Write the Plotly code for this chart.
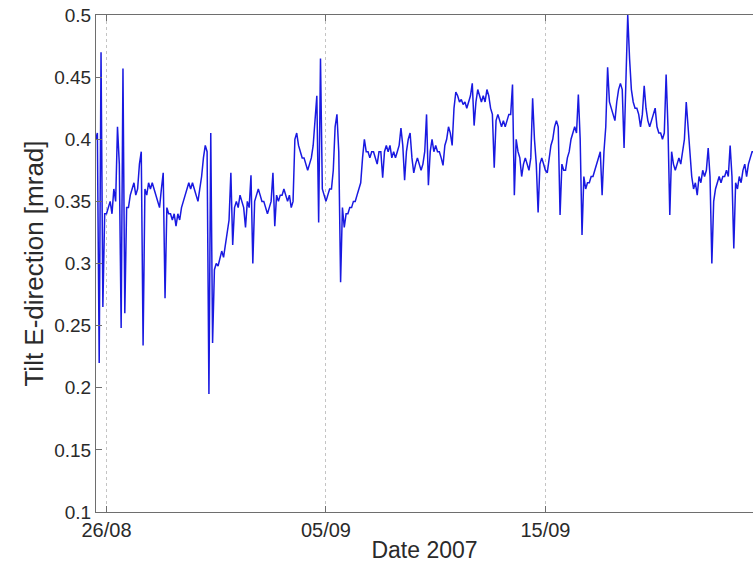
import pandas as pd
import plotly.graph_objects as go

# Tilt readings, sampled every 2 hours from 2007-08-25 12:00
tilt_aug = [
    0.40, 0.405, 0.22, 0.47, 0.265, 0.34,
    0.34, 0.345, 0.35, 0.34, 0.36, 0.35, 0.41, 0.38, 0.248, 0.457, 0.26, 0.345,
    0.345, 0.355, 0.36, 0.365, 0.355, 0.36, 0.38, 0.39, 0.234, 0.36, 0.355, 0.365,
    0.36, 0.365, 0.36, 0.355, 0.35, 0.345, 0.36, 0.373, 0.272, 0.345, 0.34, 0.34,
    0.335, 0.34, 0.33, 0.34, 0.335, 0.345, 0.35, 0.355, 0.36, 0.365, 0.36, 0.365,
    0.36, 0.355, 0.35, 0.36, 0.37, 0.385, 0.395, 0.39, 0.195, 0.405, 0.236, 0.295,
    0.30, 0.298, 0.305, 0.31, 0.305, 0.315, 0.325, 0.335, 0.373, 0.315, 0.345, 0.35,
]
tilt_sep_a = [
    0.345, 0.355, 0.35, 0.345, 0.329, 0.35, 0.345, 0.371, 0.30, 0.35, 0.355, 0.36,
    0.355, 0.35, 0.35, 0.345, 0.34, 0.345, 0.35, 0.373, 0.33, 0.355, 0.35, 0.355,
    0.355, 0.36, 0.355, 0.35, 0.355, 0.345, 0.35, 0.40, 0.405, 0.395, 0.39, 0.385,
    0.385, 0.38, 0.375, 0.38, 0.385, 0.395, 0.42, 0.435, 0.333, 0.465, 0.36, 0.355,
    0.35, 0.355, 0.36, 0.36, 0.375, 0.41, 0.42, 0.39, 0.285, 0.345, 0.329, 0.34,
    0.34, 0.345, 0.345, 0.35, 0.35, 0.355, 0.36, 0.365, 0.385, 0.40, 0.39, 0.39,
    0.385, 0.39, 0.39, 0.385, 0.38, 0.39, 0.39, 0.369, 0.39, 0.395, 0.39, 0.395,
    0.385, 0.39, 0.385, 0.39, 0.395, 0.409, 0.395, 0.367, 0.39, 0.40, 0.405, 0.385,
    0.373, 0.38, 0.385, 0.38, 0.375, 0.38, 0.39, 0.42, 0.363, 0.39, 0.40, 0.39,
    0.395, 0.39, 0.39, 0.385, 0.379, 0.395, 0.40, 0.41, 0.405, 0.395, 0.425, 0.438,
]
tilt_sep_b = [
    0.435, 0.43, 0.432, 0.428, 0.43, 0.425, 0.43, 0.435, 0.445, 0.411, 0.43, 0.44,
    0.435, 0.43, 0.435, 0.43, 0.44, 0.435, 0.425, 0.42, 0.377, 0.415, 0.42, 0.415,
    0.41, 0.415, 0.41, 0.415, 0.42, 0.42, 0.444, 0.355, 0.40, 0.39, 0.385, 0.37,
    0.38, 0.385, 0.38, 0.375, 0.385, 0.433, 0.40, 0.38, 0.341, 0.38, 0.385, 0.38,
    0.375, 0.373, 0.385, 0.395, 0.40, 0.41, 0.415, 0.41, 0.339, 0.38, 0.375, 0.375,
    0.385, 0.39, 0.40, 0.405, 0.41, 0.405, 0.436, 0.40, 0.323, 0.37, 0.36, 0.365,
    0.365, 0.37, 0.37, 0.375, 0.38, 0.385, 0.39, 0.355, 0.39, 0.41, 0.458, 0.43,
    0.425, 0.42, 0.415, 0.43, 0.44, 0.445, 0.44, 0.393, 0.44, 0.50, 0.465, 0.44,
    0.43, 0.425, 0.425, 0.42, 0.41, 0.42, 0.443, 0.425, 0.415, 0.41, 0.415, 0.42,
    0.425, 0.41, 0.405, 0.405, 0.40, 0.405, 0.452, 0.41, 0.339, 0.39, 0.38, 0.375,
]
tilt_sep_c = [
    0.38, 0.385, 0.38, 0.39, 0.40, 0.43, 0.41, 0.39, 0.37, 0.36, 0.365, 0.355,
    0.37, 0.365, 0.375, 0.37, 0.375, 0.393, 0.37, 0.30, 0.35, 0.36, 0.365, 0.37,
    0.365, 0.37, 0.37, 0.375, 0.37, 0.395, 0.37, 0.312, 0.365, 0.36, 0.37, 0.365,
    0.375, 0.38, 0.37, 0.38, 0.385, 0.39, 0.39,
]
start_time = "2007-08-25 12:00"
sample_step = "2h"

tick_dates = ["2007-08-26", "2007-09-05", "2007-09-15"]
tick_labels = ["26/08", "05/09", "15/09"]
y_ticks = [0.1, 0.15, 0.2, 0.25, 0.3, 0.35, 0.4, 0.45, 0.5]
y_tick_labels = ["0.1", "0.15", "0.2", "0.25", "0.3", "0.35", "0.4", "0.45", "0.5"]

values = tilt_aug + tilt_sep_a + tilt_sep_b + tilt_sep_c
times = pd.date_range(start_time, periods=len(values), freq=sample_step)

fig = go.Figure()
fig.add_trace(go.Scatter(
    x=times, y=values, mode="lines",
    line=dict(color="rgb(25,25,225)", width=1.5),
    showlegend=False, hoverinfo="skip",
))

axis_col = "#6e6e6e"
fig.update_layout(
    width=753, height=566,
    margin=dict(l=96, r=0, t=15, b=54),
    paper_bgcolor="white", plot_bgcolor="white",
    font=dict(family="Liberation Sans, Arial, sans-serif", size=19, color="#2a2a2a"),
    xaxis=dict(
        type="date", automargin=False,
        range=["2007-08-25 12:30", "2007-09-24 11:00"],
        tickvals=tick_dates, ticktext=tick_labels,
        tickfont=dict(size=20),
        ticks="inside", ticklen=6, tickcolor=axis_col,
        showline=True, linecolor=axis_col, linewidth=1, mirror="ticks",
        showgrid=True, gridcolor="#c4c4c4", griddash="dot", gridwidth=1,
        zeroline=False,
        title=dict(text="Date 2007", font=dict(size=23), standoff=1),
    ),
    yaxis=dict(
        range=[0.1, 0.5], automargin=False,
        tickvals=y_ticks, ticktext=y_tick_labels,
        tickfont=dict(size=19),
        ticks="inside", ticklen=6, tickcolor=axis_col,
        showline=True, linecolor=axis_col, linewidth=1,
        showgrid=False, zeroline=False,
        title=dict(text="Tilt E-direction [mrad]", font=dict(size=26), standoff=3),
    ),
    yaxis2=dict(
        range=[0.1, 0.5], overlaying="y", side="right",
        tickvals=y_ticks, ticks="inside", ticklen=6, tickcolor="#bdbdbd",
        showticklabels=False, showline=False, showgrid=False, zeroline=False,
    ),
)

fig.write_html("out.html")
